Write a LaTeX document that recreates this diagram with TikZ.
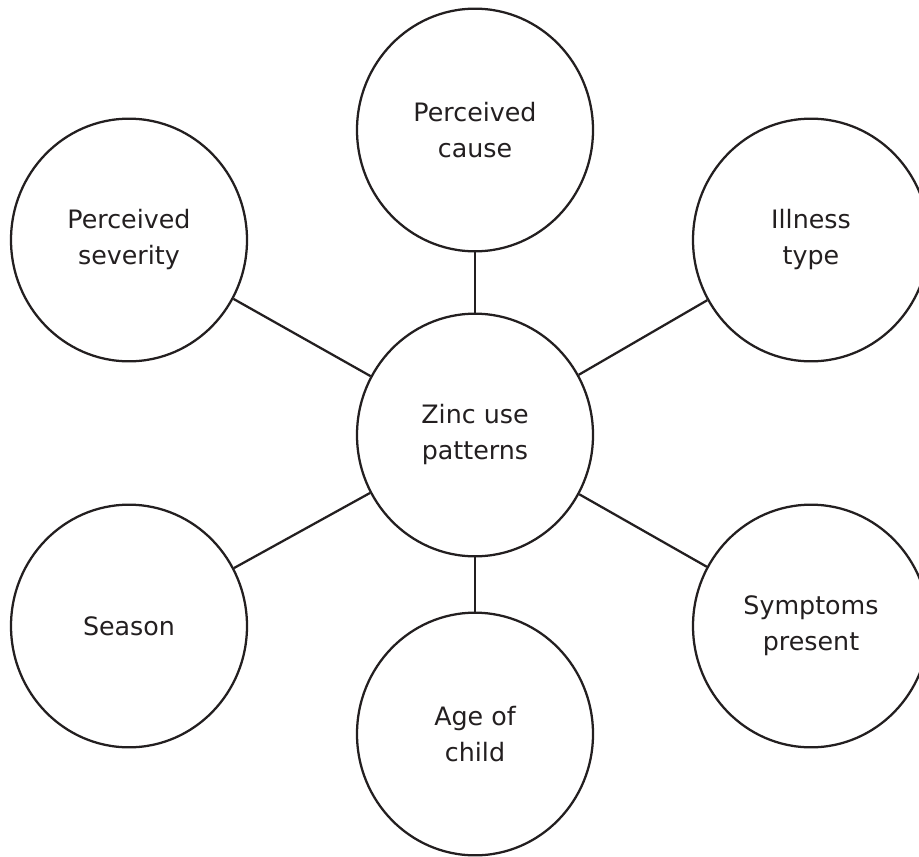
\documentclass[tikz,border=0pt]{standalone}
\usepackage{fontspec}
\setmainfont{DejaVu Sans}
\usetikzlibrary{shapes.geometric}
\definecolor{ink}{HTML}{231F20}
\begin{document}
\begin{tikzpicture}[x=0.75pt,y=-0.75pt,
  topic/.style={ellipse, draw=ink, line width=1.7pt, fill=white,
    minimum width=177pt, minimum height=182pt, inner sep=0pt,
    align=center, text=ink, font=\fontsize{19}{27}\selectfont},
  link/.style={draw=ink, line width=1.7pt}]
  \useasboundingbox (0,0) rectangle (919,856);
  % hub
  \node[topic] (hub) at (475,435) {Zinc use\\patterns};
  % surrounding factors
  \node[topic] (cause)    at (475,130) {Perceived\\cause};
  \node[topic] (severity) at (129,240) {Perceived\\severity};
  \node[topic] (illness)  at (811,240) {Illness\\type};
  \node[topic] (season)   at (129,626) {Season};
  \node[topic] (symptoms) at (811,626) {Symptoms\\present};
  \node[topic] (age)      at (475,734) {Age of\\child};
  % spokes
  \foreach \n in {cause,severity,illness,season,symptoms,age}
    \draw[link] (hub) -- (\n);
\end{tikzpicture}
\end{document}
